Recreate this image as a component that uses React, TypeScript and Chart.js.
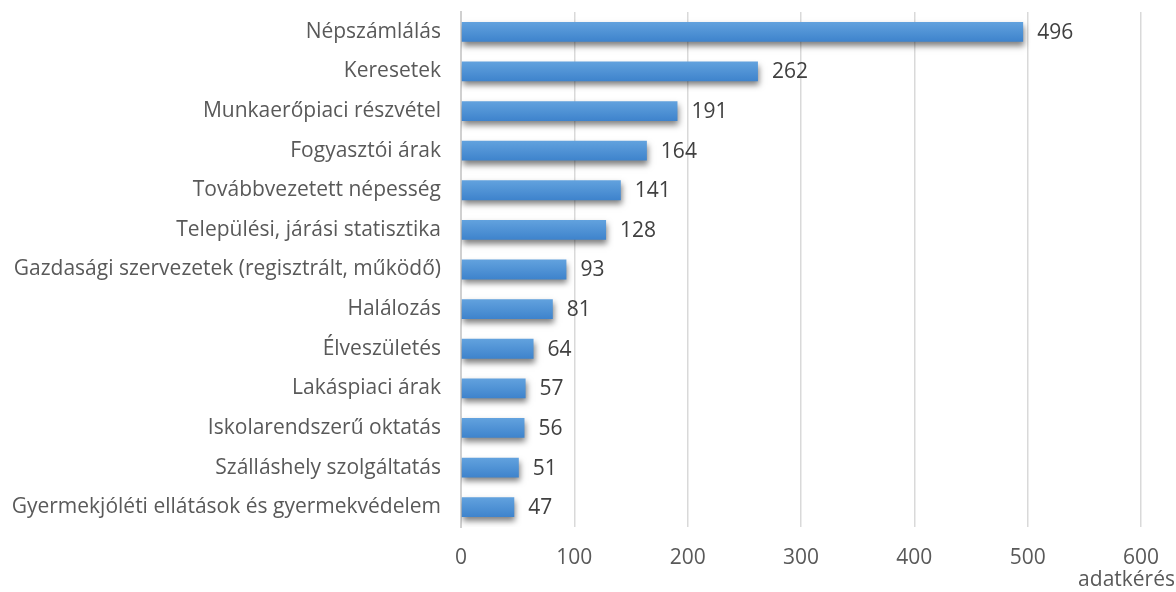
import React, { useEffect, useRef } from "react";
import { Chart, registerables } from "chart.js";

Chart.register(...registerables);

const categories = [
  "Népszámlálás",
  "Keresetek",
  "Munkaerőpiaci részvétel",
  "Fogyasztói árak",
  "Továbbvezetett népesség",
  "Települési, járási statisztika",
  "Gazdasági szervezetek (regisztrált, működő)",
  "Halálozás",
  "Élveszületés",
  "Lakáspiaci árak",
  "Iskolarendszerű oktatás",
  "Szálláshely szolgáltatás",
  "Gyermekjóléti ellátások és gyermekvédelem",
];
const values = [496, 262, 191, 164, 141, 128, 93, 81, 64, 57, 56, 51, 47];
const xTicks = [0, 100, 200, 300, 400, 500, 600];
const axisTitle = "adatkérés";

const FONT = "'Open Sans', sans-serif";
const FS = 21;

export default function App() {
  const ref = useRef<HTMLCanvasElement | null>(null);

  useEffect(() => {
    document.body.style.margin = "0";
    const canvas = ref.current;
    if (!canvas) return;

    const barStyle = {
      id: "barStyle",
      beforeDatasetsDraw(chart: any) {
        const ctx = chart.ctx;
        ctx.save();
        ctx.shadowColor = "rgba(0,0,0,0.5)";
        ctx.shadowBlur = 6;
        ctx.shadowOffsetX = 1;
        ctx.shadowOffsetY = 4;
      },
      afterDatasetsDraw(chart: any) {
        const ctx = chart.ctx;
        ctx.restore();
        const meta = chart.getDatasetMeta(0);
        ctx.save();
        ctx.font = `${FS}px ${FONT}`;
        ctx.fillStyle = "#404040";
        ctx.textAlign = "left";
        ctx.textBaseline = "middle";
        meta.data.forEach((el: any, i: number) => {
          ctx.fillText(String(values[i]), el.x + 14, el.y + 1);
        });
        ctx.fillStyle = "#595959";
        ctx.textAlign = "right";
        ctx.fillText(axisTitle, 1175, 580);
        ctx.restore();
      },
    };

    const gradientFor = (c: any) => {
      const chart = c.chart;
      const y = chart.scales && chart.scales.y;
      if (!chart.chartArea || !y || c.dataIndex === undefined) return "#4f94d6";
      const cy = y.getPixelForValue(c.dataIndex);
      const h = (chart.chartArea.bottom - chart.chartArea.top) / categories.length / 2;
      const g = chart.ctx.createLinearGradient(0, cy - h / 2, 0, cy + h / 2);
      g.addColorStop(0, "#62a2de");
      g.addColorStop(1, "#3e83cc");
      return g;
    };

    const chart = new Chart(canvas, {
      type: "bar",
      data: {
        labels: categories,
        datasets: [
          {
            data: values,
            backgroundColor: gradientFor,
            borderWidth: 0,
            barPercentage: 0.5,
            categoryPercentage: 1,
          },
        ],
      },
      options: {
        indexAxis: "y",
        animation: false,
        responsive: false,
        maintainAspectRatio: false,
        layout: { padding: { top: 12, right: 35, left: 0, bottom: 0 } },
        plugins: {
          legend: { display: false },
          tooltip: { enabled: false },
        },
        scales: {
          x: {
            min: 0,
            max: 600,
            afterBuildTicks: (s: any) => {
              s.ticks = xTicks.map((v) => ({ value: v }));
            },
            afterFit: (s: any) => {
              s.height = 65;
              s.paddingLeft = 0;
              s.paddingRight = 0;
            },
            grid: { color: "#d9d9d9", lineWidth: 1.5, drawTicks: false },
            border: { display: false },
            ticks: {
              font: { family: FONT, size: FS },
              color: "#595959",
              padding: 18,
            },
          },
          y: {
            afterFit: (s: any) => {
              s.width = 461;
              s.paddingTop = 0;
              s.paddingBottom = 0;
            },
            grid: { display: false, drawTicks: false },
            border: { display: true, color: "#d0d0d0", width: 2 },
            ticks: {
              font: { family: FONT, size: FS },
              color: "#595959",
              padding: 20,
              autoSkip: false,
            },
          },
        },
      },
      plugins: [barStyle],
    });

    return () => chart.destroy();
  }, []);

  return (
    <div style={{ width: 1176, height: 592, background: "#fff" }}>
      <canvas ref={ref} width={1176} height={592} />
    </div>
  );
}
